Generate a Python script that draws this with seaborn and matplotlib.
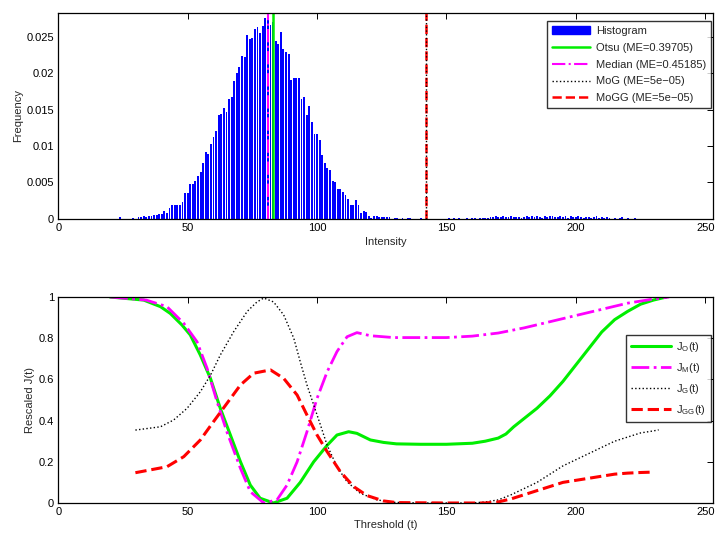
import numpy as np
import pandas as pd
import matplotlib
matplotlib.use('Agg')
import matplotlib.pyplot as plt
from matplotlib.patches import Patch
from matplotlib.lines import Line2D
import seaborn as sns

# ---- histogram (intensity 20..225) ----
hist_x = np.arange(20, 226)
hist_freq = (
    # 20-35
    [0, 0, 0, 0, 0.0002, 0, 0, 0, 0, 0.0001, 0, 0.0002, 0.0002, 0.0003, 0.0002, 0.0003]
    # 36-50
    + [0.0004, 0.0005, 0.0005, 0.0006, 0.0006, 0.0010, 0.0008, 0.0015, 0.0019, 0.0019,
       0.0018, 0.0018, 0.0023, 0.0035, 0.0035]
    # 51-65
    + [0.0047, 0.0048, 0.0052, 0.0058, 0.0064, 0.0076, 0.0092, 0.0089, 0.0103, 0.0112,
       0.0121, 0.0142, 0.0144, 0.0152, 0.0146]
    # 66-80
    + [0.0165, 0.0168, 0.0190, 0.0201, 0.0208, 0.0224, 0.0222, 0.0253, 0.0247, 0.0248,
       0.0261, 0.0264, 0.0256, 0.0265, 0.0276]
    # 81-95
    + [0.0283, 0.0267, 0.0270, 0.0244, 0.0240, 0.0257, 0.0234, 0.0229, 0.0227, 0.0191,
       0.0194, 0.0194, 0.0193, 0.0164, 0.0168]
    # 96-110
    + [0.0143, 0.0155, 0.0133, 0.0117, 0.0117, 0.0108, 0.0087, 0.0076, 0.0069, 0.0067,
       0.0052, 0.0050, 0.0041, 0.0040, 0.0036]
    # 111-120
    + [0.0032, 0.0027, 0.0019, 0.0019, 0.0026, 0.0018, 0.0008, 0.0010, 0.0009, 0.0004]
    # 121-135
    + [0.0001, 0.0003, 0.0004, 0.0002, 0.0002, 0.0002, 0.0002, 0.0002, 0, 0.0001,
       0.0001, 0, 0.0001, 0, 0.0001]
    # 136-150
    + [0.0001, 0, 0, 0, 0.0001, 0, 0, 0, 0, 0, 0, 0, 0, 0, 0]
    # 151-165
    + [0.0001, 0, 0.0001, 0, 0.0001, 0, 0, 0.0001, 0, 0.0001, 0.0001, 0, 0.0001, 0.0001, 0.0001]
    # 166-180
    + [0.0001, 0.0002, 0.0002, 0.0003, 0.0002, 0.0002, 0.0003, 0.0002, 0.0002, 0.0004,
       0.0002, 0.0002, 0.0002, 0.0001, 0.0002]
    # 181-195
    + [0.0003, 0.0002, 0.0003, 0.0002, 0.0004, 0.0002, 0.0001, 0.0003, 0.0002, 0.0003,
       0.0003, 0.0002, 0.0002, 0.0003, 0.0002]
    # 196-210
    + [0.0003, 0.0001, 0.0004, 0.0002, 0.0002, 0.0003, 0.0002, 0.0001, 0.0002, 0.0002,
       0.0001, 0.0002, 0.0003, 0.0001, 0.0002]
    # 211-225
    + [0.0001, 0.0002, 0.0001, 0, 0.0001, 0, 0.0001, 0.0002, 0, 0.0001, 0, 0, 0.0001, 0, 0]
)

thr_otsu = 83
thr_median = 81
thr_mog = 142
thr_mogg = 142
legend_top = ['Histogram', 'Otsu (ME=0.39705)', 'Median (ME=0.45185)',
              'MoG (ME=5e\u221205)', 'MoGG (ME=5e\u221205)']

# ---- rescaled criterion curves ----
t_o = [20, 33, 39.5, 43.3, 47.8, 51, 54.9, 58.8, 62.6, 66.5, 70.4, 74.2, 78, 83.2, 88.4,
       93.5, 98.7, 103.9, 107.7, 112.2, 115.4, 120.6, 125.7, 130.7, 140, 150, 160, 165, 170,
       173, 176, 180, 185, 190, 195, 200, 205, 210, 215, 220, 225, 230, 235]
j_o = [1.0, 0.985, 0.953, 0.92, 0.864, 0.816, 0.718, 0.605, 0.46, 0.33, 0.2, 0.087, 0.023,
       0.0, 0.023, 0.1, 0.2, 0.28, 0.33, 0.346, 0.338, 0.306, 0.294, 0.287, 0.285, 0.285,
       0.29, 0.3, 0.315, 0.335, 0.37, 0.41, 0.46, 0.52, 0.59, 0.67, 0.75, 0.83, 0.89, 0.93,
       0.965, 0.985, 1.0]

t_m = [20, 34, 42, 48.5, 53.6, 57.5, 61.4, 65.2, 70.4, 74.2, 79.4, 84.5, 88.4, 92.3, 96.1,
       100, 103.9, 107.7, 111.6, 115.4, 120.6, 129.6, 140, 150, 160, 170, 180, 190, 200, 210,
       220, 230, 236]
j_m = [1.0, 0.985, 0.953, 0.872, 0.783, 0.654, 0.49, 0.344, 0.168, 0.055, 0.0, 0.015, 0.087,
       0.2, 0.346, 0.508, 0.637, 0.735, 0.807, 0.827, 0.812, 0.803, 0.803, 0.803, 0.81,
       0.825, 0.85, 0.88, 0.91, 0.94, 0.97, 0.99, 1.0]

t_g = [29.8, 39.5, 44.6, 49.8, 54.9, 58.8, 62.6, 67.8, 73, 76.8, 79.4, 83.2, 87.1, 91, 93.5,
       96.1, 98.7, 101.3, 103.9, 107.7, 111.6, 116.7, 123.2, 129.6, 140, 150, 160, 165, 170,
       175, 180, 185, 190, 195, 200, 205, 210, 215, 220, 225, 230, 232]
j_g = [0.354, 0.37, 0.403, 0.46, 0.54, 0.62, 0.718, 0.832, 0.93, 0.976, 0.995, 0.976, 0.913,
       0.8, 0.686, 0.573, 0.476, 0.379, 0.28, 0.176, 0.103, 0.047, 0.015, 0.003, 0.0, 0.0,
       0.0, 0.005, 0.015, 0.04, 0.07, 0.1, 0.14, 0.18, 0.21, 0.24, 0.27, 0.3, 0.32, 0.34,
       0.35, 0.355]

t_gg = [29.8, 42, 48.5, 54.9, 60, 65.2, 70.4, 75.5, 82, 87.1, 92.3, 96.1, 100, 103.9, 109,
        114.1, 119.3, 125.7, 130.8, 150, 165, 170, 175, 180, 185, 190, 195, 200, 205, 210,
        215, 220, 225, 230]
j_gg = [0.147, 0.176, 0.225, 0.306, 0.395, 0.484, 0.573, 0.63, 0.646, 0.605, 0.524, 0.427,
        0.33, 0.249, 0.152, 0.08, 0.036, 0.01, 0.002, 0.0, 0.0, 0.005, 0.02, 0.04, 0.06, 0.08,
        0.1, 0.11, 0.12, 0.13, 0.14, 0.145, 0.148, 0.15]

sns.set_theme(style='white')
plt.rcParams['font.family'] = ['Liberation Sans', 'DejaVu Sans']
plt.rcParams['mathtext.fontset'] = 'custom'
plt.rcParams['mathtext.rm'] = 'Liberation Sans'
plt.rcParams['font.size'] = 8

fig = plt.figure(figsize=(7.15, 5.33), dpi=100)
ax1 = fig.add_axes([0.0815, 0.590, 0.9157, 0.3856])
ax2 = fig.add_axes([0.0815, 0.0563, 0.9157, 0.3865])

# top: histogram + thresholds
df_h = pd.DataFrame({'intensity': hist_x, 'freq': hist_freq})
sns.histplot(data=df_h, x='intensity', weights='freq', discrete=True,
             shrink=0.72, color='#0000ff', alpha=1, linewidth=0, ax=ax1)
ax1.axvline(thr_median, color='#ff00ff', ls='-.', lw=1.5)
ax1.axvline(thr_otsu, color='#00ee00', ls='-', lw=1.8)
ax1.axvline(thr_mogg, color='#ff0000', ls='--', lw=1.8)
ax1.axvline(thr_mog, color='black', ls=':', lw=1)
ax1.set_xlim(0, 253)
ax1.set_ylim(0, 0.0283)
ax1.set_xticks([0, 50, 100, 150, 200, 250])
ax1.set_yticks([0, 0.005, 0.01, 0.015, 0.02, 0.025])
ax1.set_yticklabels(['0', '0.005', '0.01', '0.015', '0.02', '0.025'])
ax1.set_xlabel('Intensity', fontsize=8, labelpad=3)
ax1.set_ylabel('Frequency', fontsize=8, labelpad=2.5)

handles_top = [
    Patch(facecolor='#0000ff', edgecolor='#0000ff'),
    Line2D([], [], color='#00ee00', lw=1.8),
    Line2D([], [], color='#ff00ff', lw=1.5, ls='-.'),
    Line2D([], [], color='black', lw=1, ls=':'),
    Line2D([], [], color='#ff0000', lw=1.8, ls='--'),
]
leg1 = ax1.legend(handles_top, legend_top, loc='upper right', bbox_to_anchor=(0.997, 0.962),
                  borderaxespad=0, fontsize=8, frameon=True, fancybox=False, edgecolor='black',
                  handlelength=3.4, borderpad=0.45, labelspacing=0.62, handletextpad=0.5)
leg1.get_frame().set_linewidth(1)

# bottom: rescaled criteria
sns.lineplot(x=t_o, y=j_o, ax=ax2, color='#00ee00', lw=2.2, label='J$_{\\mathregular{O}}$(t)')
sns.lineplot(x=t_m, y=j_m, ax=ax2, color='#ff00ff', lw=2, ls='-.', label='J$_{\\mathregular{M}}$(t)')
sns.lineplot(x=t_g, y=j_g, ax=ax2, color='black', lw=1, ls=':', label='J$_{\\mathregular{G}}$(t)')
sns.lineplot(x=t_gg, y=j_gg, ax=ax2, color='#ff0000', lw=2.2, ls='--', label='J$_{\\mathregular{GG}}$(t)')
ax2.set_xlim(0, 253)
ax2.set_ylim(0, 1)
ax2.set_xticks([0, 50, 100, 150, 200, 250])
ax2.set_yticks([0, 0.2, 0.4, 0.6, 0.8, 1])
ax2.set_yticklabels(['0', '0.2', '0.4', '0.6', '0.8', '1'])
ax2.set_xlabel('Threshold (t)', fontsize=8, labelpad=2)
ax2.set_ylabel('Rescaled J(t)', fontsize=8, labelpad=3)
leg2 = ax2.legend(loc='upper right', bbox_to_anchor=(0.997, 0.816), borderaxespad=0,
                  fontsize=8, frameon=True, fancybox=False, edgecolor='black',
                  handlelength=3.6, borderpad=0.45, labelspacing=0.62, handletextpad=0.5)
leg2.get_frame().set_linewidth(1)

for ax in (ax1, ax2):
    for s in ax.spines.values():
        s.set_color('black')
        s.set_linewidth(0.9)
    ax.tick_params(direction='in', length=4, width=0.7, top=True, right=True,
                   labelsize=8, colors='black', pad=3)
    ax.grid(False)

fig.savefig('out.png', dpi=100)
